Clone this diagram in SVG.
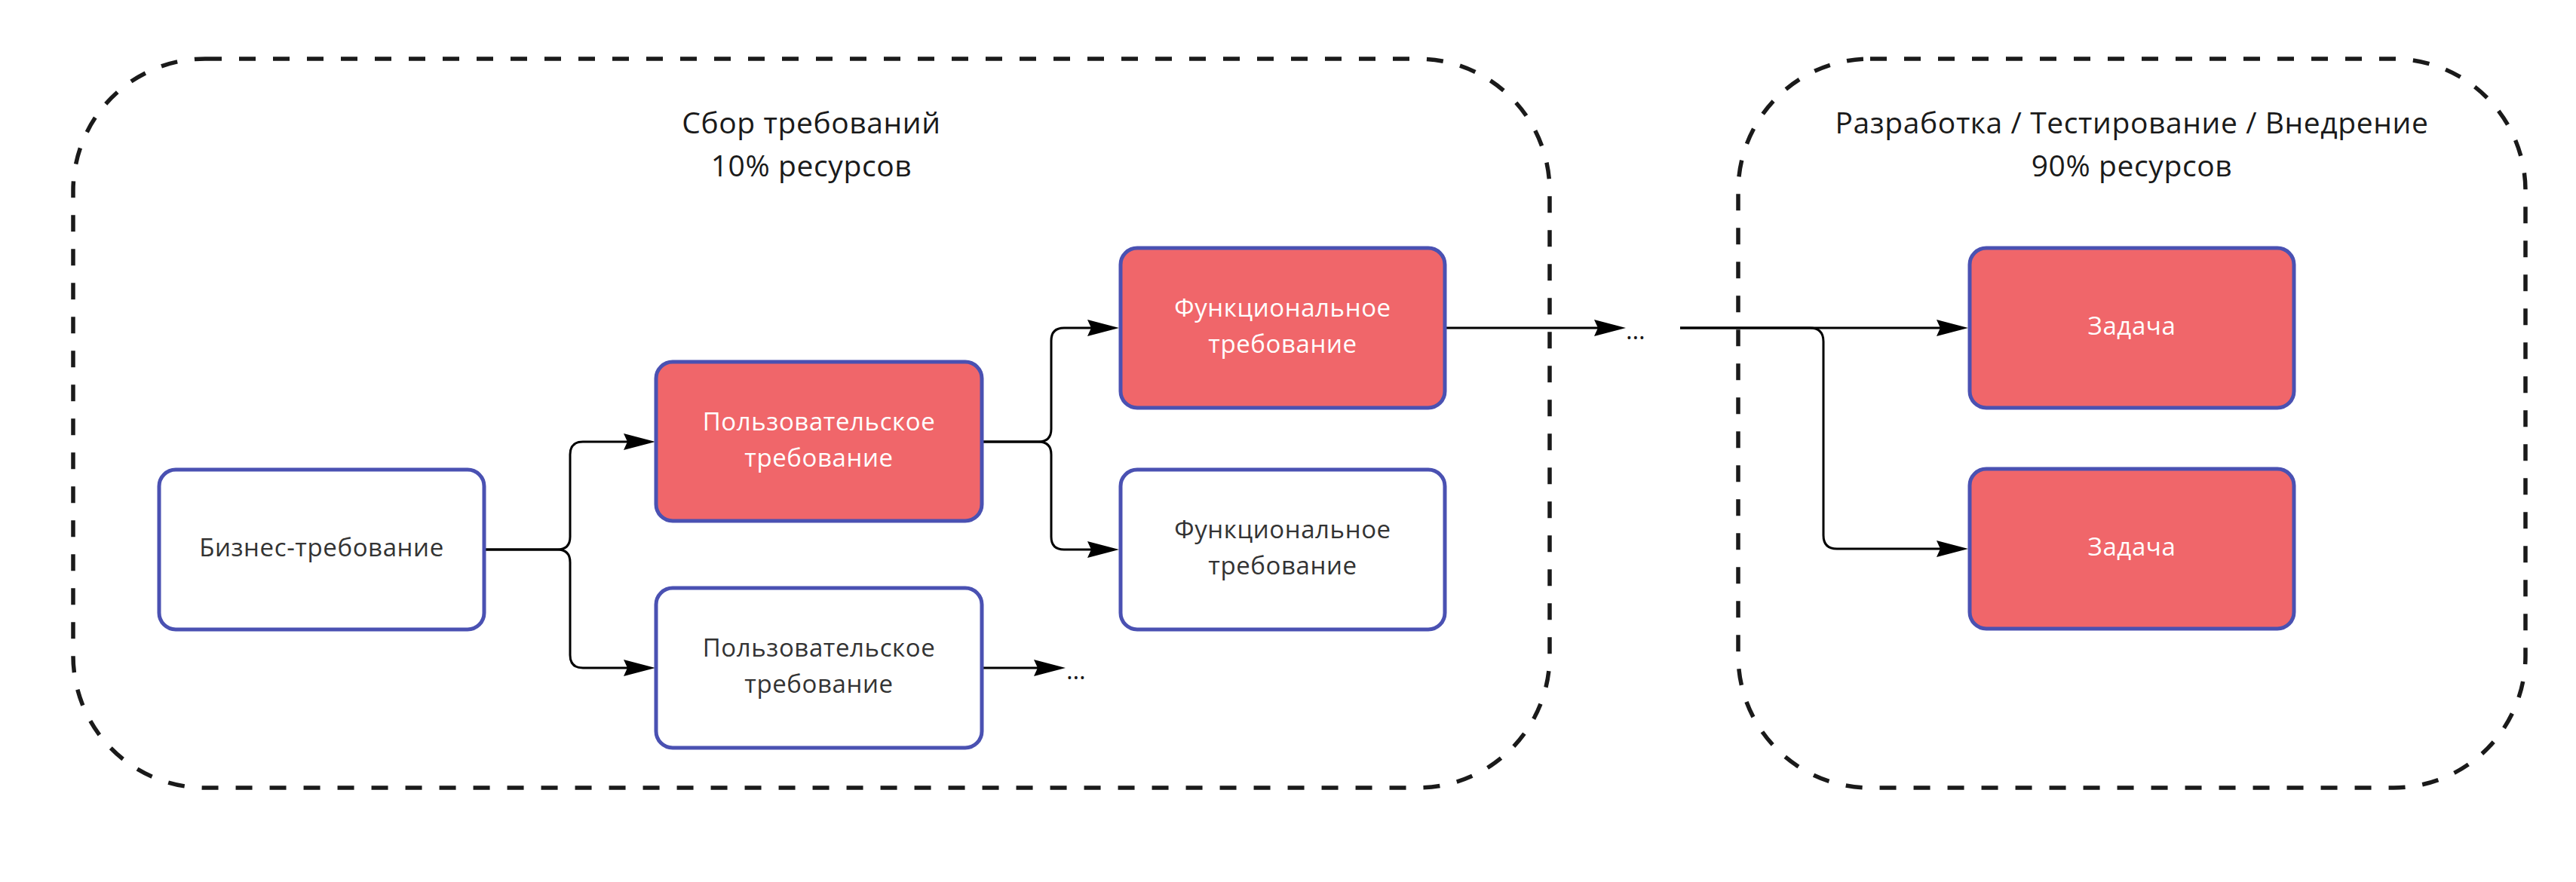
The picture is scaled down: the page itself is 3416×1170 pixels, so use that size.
<svg xmlns="http://www.w3.org/2000/svg" width="3416" height="1170" viewBox="0 0 3416 1170">
<style>
.frame{fill:none;stroke:#1a1a1a;stroke-width:5.5;stroke-dasharray:22 23}
.title{font-family:"Open Sans","Liberation Sans",sans-serif;font-size:39px;letter-spacing:0.6px;fill:#1a1a1a;text-anchor:middle}
.box{stroke:#4a51b2;stroke-width:5}
.red{fill:#f0666a}
.white{fill:#ffffff}
.lbl{font-family:"Open Sans","Liberation Sans",sans-serif;font-size:33px;letter-spacing:0.6px;text-anchor:middle}
.lw{fill:#ffffff}
.ld{fill:#333333}
.conn{fill:none;stroke:#000000;stroke-width:3}
.dots{font-family:"Open Sans","Liberation Sans",sans-serif;font-size:33px;fill:#1a1a1a}
</style>
<defs>
<marker id="arr" markerUnits="userSpaceOnUse" viewBox="0 0 42 22" markerWidth="42" markerHeight="22" refX="5" refY="11" orient="auto">
<path d="M0,0 L42,11 L0,22 L5,11 Z" fill="#000000"/>
</marker>
</defs>
<rect width="3416" height="1170" fill="#ffffff"/>
<g id="frame-requirements">
<rect class="frame" x="97" y="78" width="1958" height="967" rx="175" ry="175"/>
<text class="title" x="1076" y="177">Сбор требований</text>
<text class="title" x="1076" y="234">10% ресурсов</text>
</g>
<g id="frame-development">
<rect class="frame" x="2305" y="78" width="1044" height="967" rx="175" ry="175"/>
<text class="title" x="2827" y="177">Разработка / Тестирование / Внедрение</text>
<text class="title" x="2827" y="234">90% ресурсов</text>
</g>
<g id="connectors">
<path class="conn" marker-end="url(#arr)" d="M642,729 H739 Q756,729 756,712 V603 Q756,586 773,586 H832"/>
<path class="conn" marker-end="url(#arr)" d="M642,729 H739 Q756,729 756,746 V869 Q756,886 773,886 H832"/>
<path class="conn" marker-end="url(#arr)" d="M1302,586 H1377 Q1394,586 1394,569 V452 Q1394,435 1411,435 H1447"/>
<path class="conn" marker-end="url(#arr)" d="M1302,586 H1377 Q1394,586 1394,603 V712 Q1394,729 1411,729 H1447"/>
<path class="conn" marker-end="url(#arr)" d="M1915,435 H2119"/>
<path class="conn" marker-end="url(#arr)" d="M1302,886 H1376"/>
<path class="conn" marker-end="url(#arr)" d="M2228,435 H2573"/>
<path class="conn" marker-end="url(#arr)" d="M2228,435 H2400 Q2418,435 2418,453 V710 Q2418,728 2436,728 H2573"/>
<text class="dots" x="2156" y="450">…</text>
<text class="dots" x="1414" y="901">…</text>
</g>
<g id="node-business">
<rect class="box white" x="211" y="623" width="431" height="212" rx="22"/>
<text class="lbl ld" x="426.5" y="738">Бизнес-требование</text>
</g>
<g id="node-user-1">
<rect class="box red" x="870" y="480" width="432" height="211" rx="22"/>
<text class="lbl lw" x="1086" y="571">Пользовательское</text>
<text class="lbl lw" x="1086" y="619">требование</text>
</g>
<g id="node-user-2">
<rect class="box white" x="870" y="780" width="432" height="212" rx="22"/>
<text class="lbl ld" x="1086" y="871">Пользовательское</text>
<text class="lbl ld" x="1086" y="919">требование</text>
</g>
<g id="node-func-1">
<rect class="box red" x="1486" y="329" width="430" height="212" rx="22"/>
<text class="lbl lw" x="1701" y="420">Функциональное</text>
<text class="lbl lw" x="1701" y="468">требование</text>
</g>
<g id="node-func-2">
<rect class="box white" x="1486" y="623" width="430" height="212" rx="22"/>
<text class="lbl ld" x="1701" y="714">Функциональное</text>
<text class="lbl ld" x="1701" y="762">требование</text>
</g>
<g id="node-task-1">
<rect class="box red" x="2612" y="329" width="430" height="212" rx="22"/>
<text class="lbl lw" x="2827" y="444">Задача</text>
</g>
<g id="node-task-2">
<rect class="box red" x="2612" y="622" width="430" height="212" rx="22"/>
<text class="lbl lw" x="2827" y="737">Задача</text>
</g>
</svg>
